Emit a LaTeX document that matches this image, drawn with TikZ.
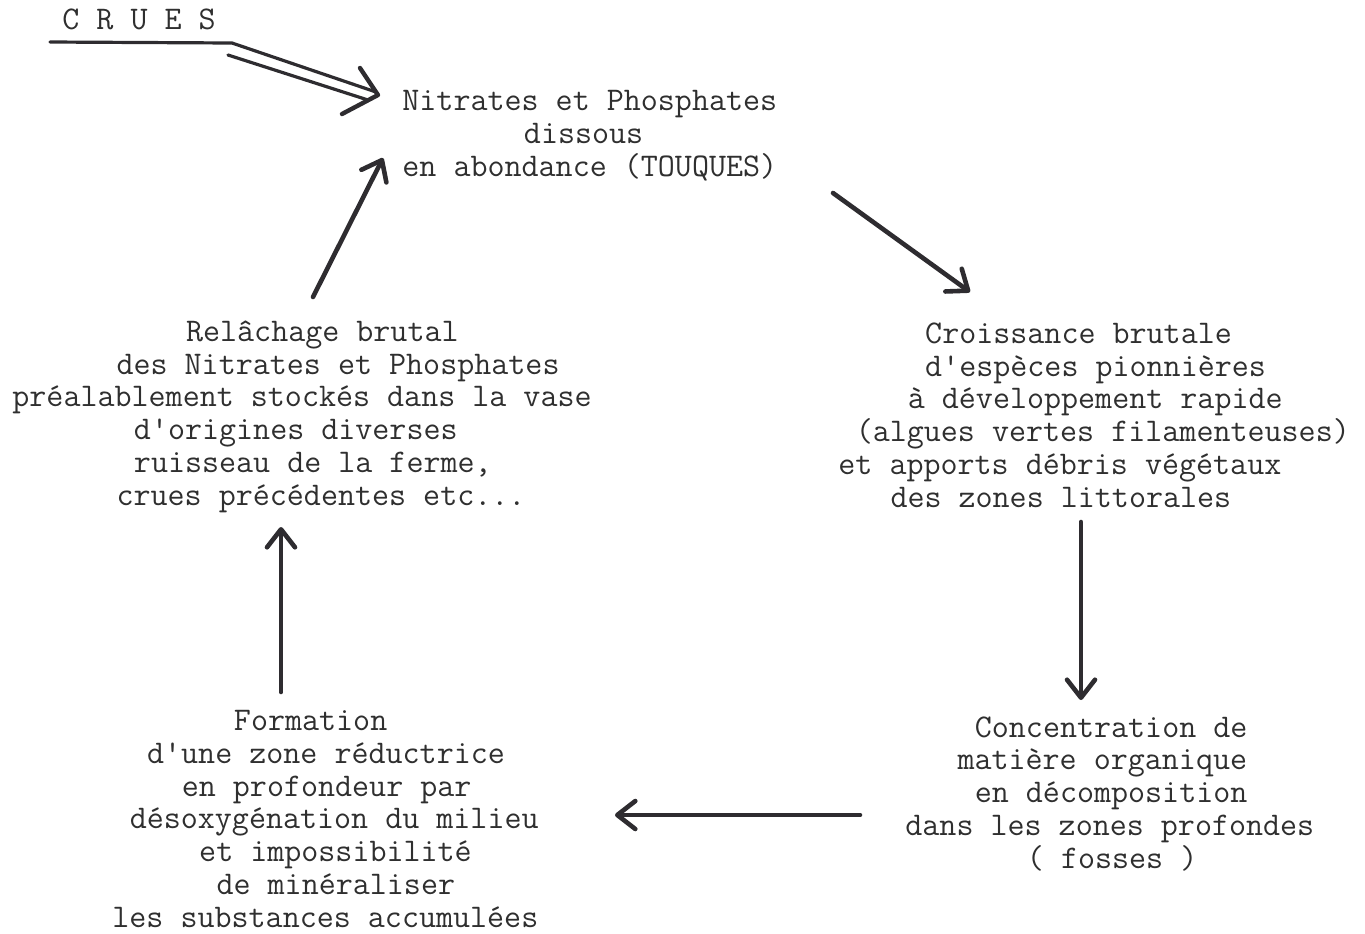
\documentclass[tikz,border=0pt]{standalone}
\usepackage{fontspec}
\usetikzlibrary{arrows.meta}
\newcommand\ind[1]{\hspace*{#1\dimexpr0.525em\relax}}
\definecolor{ink}{HTML}{2E2C30}
\definecolor{txt}{HTML}{2F2F2F}
\tikzset{
  block/.style={anchor=base west, inner sep=0pt, align=left, text=txt,
    font=\ttfamily\fontsize{16.54}{16.35}\selectfont},
  flow/.style={draw=ink, line width=2.3pt, line cap=round, line join=round,
    -{Straight Barb[length=9pt,width=14pt,round]}},
  feed/.style={draw=ink, line width=1.6pt, line cap=round, line join=round}
}
\begin{document}
\begin{tikzpicture}[x=0.5pt,y=-0.5pt]
\useasboundingbox (0,0) rectangle (1365,933);
% blocks (anchored at baseline of last line)
\node[block] (crues) at (62,29) {C R U E S};
\node[block] (top) at (402,176) {Nitrates et Phosphates\\\ind{7}dissous\\en abondance (TOUQUES)};
\node[block] (right) at (838,507) {\ind{5}Croissance brutale\\\ind{5}d'espèces pionnières\\\ind{4}à développement rapide\\\ind{1}(algues vertes filamenteuses)\\et apports débris végétaux\\\ind{3}des zones littorales};
\node[block] (br) at (905,868) {\ind{4}Concentration de\\\ind{3}matière organique\\\ind{4}en décomposition\\dans les zones profondes\\\ind{7}( fosses )};
\node[block] (bl) at (112,927) {\ind{7}Formation\\\ind{2}d'une zone réductrice\\\ind{4}en profondeur par\\\ind{1}désoxygénation du milieu\\\ind{5}et impossibilité\\\ind{6}de minéraliser\\les substances accumulées};
\node[block] (left) at (12,505) {\ind{10}Relâchage brutal\\\ind{6}des Nitrates et Phosphates\\préalablement stockés dans la vase\\\ind{7}d'origines diverses\\\ind{7}ruisseau de la ferme,\\\ind{6}crues précédentes etc...};
% arrow end points
\coordinate (a1s) at (833,193); \coordinate (a1e) at (970,292);
\coordinate (a2s) at (1081,522); \coordinate (a2e) at (1081,700);
\coordinate (a3s) at (860,815); \coordinate (a3e) at (615,815);
\coordinate (a4s) at (281,692); \coordinate (a4e) at (281,527);
\coordinate (a5s) at (313,297); \coordinate (a5e) at (383,158);
% cycle arrows
\draw[flow] (a1s) -- (a1e);
\draw[flow] (a2s) -- (a2e);
\draw[flow] (a3s) -- (a3e);
\draw[flow] (a4s) -- (a4e);
\draw[flow] (a5s) -- (a5e);
% CRUES double arrow
\coordinate (c0) at (50,42);
\coordinate (c1) at (232,43);
\coordinate (c1b) at (228,55);
\coordinate (c2) at (376,92);
\coordinate (c2b) at (368,100);
\coordinate (cb1) at (360,68);
\coordinate (ctip) at (378,95);
\coordinate (cb2) at (342,114);
\draw[feed] (c0) -- (c1) -- (c2);
\draw[feed] (c1b) -- (c2b);
\draw[feed, line width=2.2pt] (cb1) -- (ctip) -- (cb2);
\end{tikzpicture}
\end{document}
